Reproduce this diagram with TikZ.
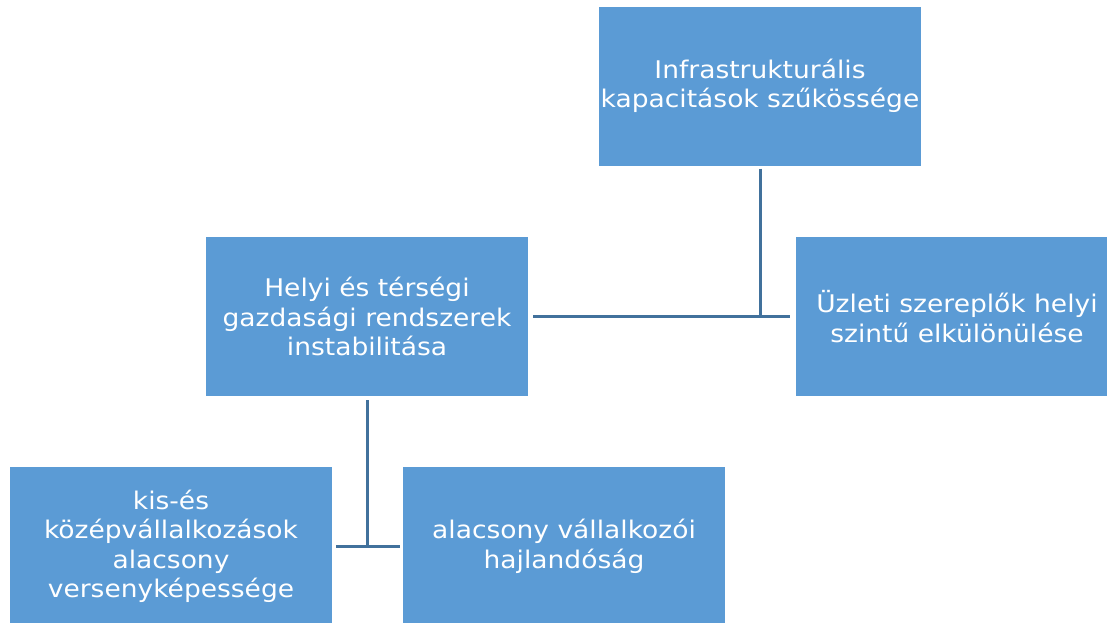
\documentclass[tikz,border=0pt]{standalone}
\usepackage{fontspec}
\setmainfont{DejaVu Sans}[FakeStretch=1.09]
\definecolor{boxblue}{HTML}{5B9BD5}
\definecolor{lineblue}{HTML}{41719C}
\tikzset{
  box/.style={fill=boxblue, draw=none, minimum width=322pt, minimum height=159pt,
    inner sep=0pt, text=white, align=center,
    font=\fontsize{24.3}{29.5}\selectfont},
  conn/.style={draw=lineblue, line width=3pt}
}
\begin{document}
\begin{tikzpicture}[x=1pt,y=-1pt]
\useasboundingbox (0,0) rectangle (1107,622);
\clip (0,0) rectangle (1107,622);
\node[box] (top) at (760,86) {Infrastrukturális\\kapacitások szűkössége};
\node[box] (mid) at (367,316.5) {Helyi és térségi\\gazdasági rendszerek\\instabilitása};
\node[box] (right) at (957,316.5) {Üzleti szereplők helyi\\szintű elkülönülése};
\node[box] (bl) at (171,546.5) {kis-és\\középvállalkozások\\alacsony\\versenyképessége};
\node[box] (br) at (564,546.5) {alacsony vállalkozói\\hajlandóság};
\draw[conn] ([xshift=5pt]mid.east) -- ([xshift=-6pt]right.west);
\draw[conn] ([yshift=-3pt]top.south) -- (top.south |- mid.east);
\draw[conn] ([xshift=4pt]bl.east) -- ([xshift=-3pt]br.west);
\draw[conn] ([yshift=-4pt]mid.south) -- (mid.south |- bl.east);
\end{tikzpicture}
\end{document}
